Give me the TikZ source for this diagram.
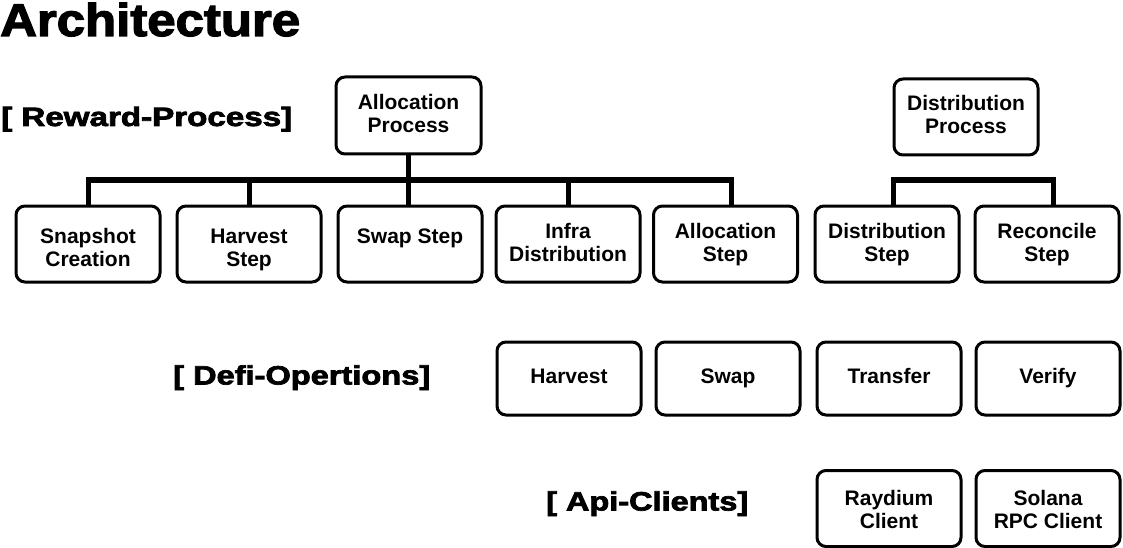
\documentclass[tikz,border=0pt]{standalone}
\usepackage{fontspec}
\usepackage{graphicx}
\usetikzlibrary{calc}
\setmainfont{Liberation Sans}
\newfontfamily\heavyfont{Liberation Sans Bold}[FakeBold=2.6]
\newfontfamily\boxfont{Liberation Sans Bold}
\newcommand{\hdrtext}[2]{\resizebox{#1pt}{\height}{#2}}
\newcommand{\ls}{\rule[-5pt]{0pt}{31pt}}
\newcommand{\lu}{\rule[-8pt]{0pt}{27pt}}
\newcommand{\lt}{\rule[-5pt]{0pt}{26pt}}
\newcommand{\boxsetup}{\boxfont\fontsize{21}{23}\selectfont\lineskiplimit=-100pt\relax\lineskip=0pt\relax}
\begin{document}
\begin{tikzpicture}[x=1pt,y=-1pt,
  box/.style={draw,line width=3pt,rounded corners=9pt,minimum width=144pt,minimum height=76pt,
    inner sep=0pt,align=center,font=\boxsetup},
  onebox/.style={box,minimum height=73pt,text height=16pt,text depth=6pt},
  bus/.style={line width=5pt},
  hdr/.style={anchor=base west,inner sep=0pt,font=\heavyfont\fontsize{26.5}{30}\selectfont}]
\useasboundingbox (0,0) rectangle (1123,548);
% titles
\node[anchor=base west,inner sep=0pt,font=\heavyfont\fontsize{46}{50}\selectfont] (title) at (0,36) {\hdrtext{300}{Architecture}};
\node[hdr] (lrew) at (1,126) {\hdrtext{291}{[ Reward-Process]}};
\node[hdr] (ldefi) at (173,384.5) {\hdrtext{257}{[ Defi-Opertions]}};
\node[hdr] (lapi) at (546,510.5) {\hdrtext{202}{[ Api-Clients]}};
% top boxes
\node[box,minimum width=145pt,minimum height=77pt] (ap) at (408.5,115.5) {\lu Allocation\\\lu Process};
\node[box] (dp) at (966,117) {\lu Distribution\\\lu Process};
% row 1
\node[box] (snap) at (88,244) {\ls Snapshot\\\ls Creation};
\node[box] (hstep) at (249,244) {\ls Harvest\\\ls Step};
\node[box] (sstep) at (410,244) {\ls Swap Step\\\ls};
\node[box] (infra) at (568,244) {\lu Infra\\\lu Distribution};
\node[box] (astep) at (725.5,244) {\lu Allocation\\\lu Step};
\node[box] (dstep) at (887,244) {\lu Distribution\\\lu Step};
\node[box] (rstep) at (1047,244) {\lu Reconcile\\\lu Step};
% row 2
\node[onebox] (harv) at (569,378.5) {Harvest};
\node[onebox] (swap) at (728,378.5) {Swap};
\node[onebox] (trans) at (889,378.5) {Transfer};
\node[onebox] (ver) at (1048,378.5) {Verify};
% row 3
\node[box] (ray) at (889,508.5) {\lt Raydium\\\lt Client};
\node[box] (sol) at (1048,508.5) {\lt Solana\\\lt RPC Client};
% connectors
\coordinate (busa) at (0,180);
\coordinate (busd) at (0,180);
\coordinate (aend) at ($(astep.north)+(6,0)$);
\coordinate (dl) at ($(dstep.north)+(6,0)$);
\coordinate (dr) at ($(rstep.north)+(6,0)$);
\draw[bus] (ap.south) -- (ap.south |- sstep.north);
\draw[bus] (snap.north) -- (snap.north |- busa) -- (aend |- busa) -- (aend);
\draw[bus] (hstep.north) -- (hstep.north |- busa);
\draw[bus] (infra.north) -- (infra.north |- busa);
\draw[bus] ($(dp.south)+(3,0)$) -- ($(dp.south)+(3,0)$ |- busd);
\draw[bus] (dl) -- (dl |- busd) -- (dr |- busd) -- (dr);
\end{tikzpicture}
\end{document}
